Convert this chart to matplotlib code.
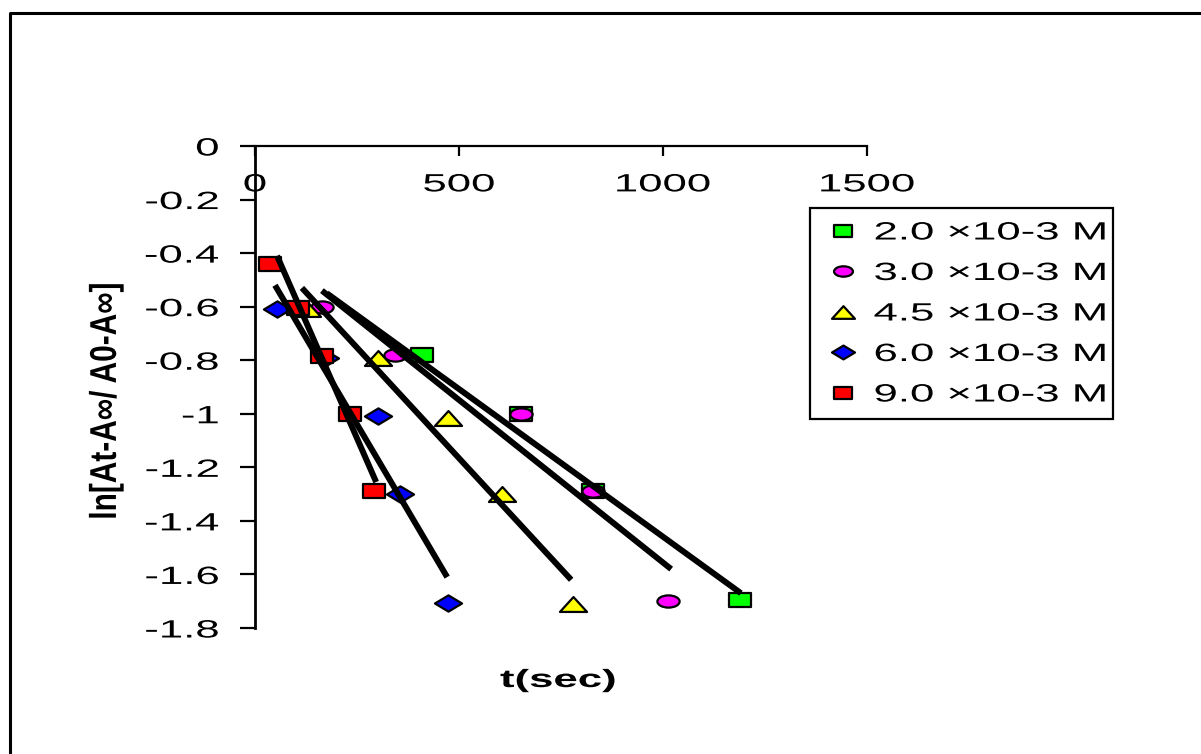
import matplotlib.pyplot as plt
import matplotlib.patheffects as pe
from matplotlib.path import Path
from matplotlib.transforms import Affine2D
from matplotlib.lines import Line2D

plt.rcParams['font.family'] = ['Liberation Sans', 'DejaVu Sans']

labels = ['2.0 ×10-3 M', '3.0 ×10-3 M', '4.5 ×10-3 M', '6.0 ×10-3 M', '9.0 ×10-3 M']
colors = ['#00ff00', '#ff00ff', '#ffff00', '#0000ff', '#ff0000']

t_20 = [409, 652, 828, 1189]
y_20 = [-0.78, -1.0, -1.29, -1.695]
t_30 = [164, 343, 652, 828, 1012]
y_30 = [-0.60, -0.78, -1.0, -1.29, -1.70]
t_45 = [127, 301, 473, 605, 779]
y_45 = [-0.61, -0.79, -1.015, -1.30, -1.71]
t_60 = [54, 172, 301, 355, 473]
y_60 = [-0.61, -0.79, -1.01, -1.30, -1.705]
t_90 = [37, 105, 164, 233, 292]
y_90 = [-0.44, -0.605, -0.785, -1.0, -1.29]

# trend lines (start / end)
fit_t = [[176, 1191], [164, 1020], [115, 775], [49, 471], [54, 297]]
fit_y = [[-0.55, -1.67], [-0.54, -1.58], [-0.53, -1.62], [-0.52, -1.61], [-0.41, -1.255]]

xticks = [0, 500, 1000, 1500]
yticks = [0, -0.2, -0.4, -0.6, -0.8, -1, -1.2, -1.4, -1.6, -1.8]
ytick_labels = ['0', '-0.2', '-0.4', '-0.6', '-0.8', '-1', '-1.2', '-1.4', '-1.6', '-1.8']


class Stretch(pe.AbstractPathEffect):
    # widen glyphs like the stretched original picture
    def __init__(self, sx=1.0, sy=1.0, anchor='left'):
        super().__init__()
        self.sx, self.sy, self.anchor = sx, sy, anchor

    def draw_path(self, renderer, gc, tpath, affine, rgbFace=None):
        ext = tpath.get_extents()
        if self.anchor == 'right':
            x0 = ext.x1
        elif self.anchor == 'center':
            x0 = (ext.x0 + ext.x1) / 2
        else:
            x0 = 0
        y0 = (ext.y0 + ext.y1) / 2
        tr = Affine2D().translate(-x0, -y0).scale(self.sx, self.sy).translate(x0, y0) + affine
        renderer.draw_path(gc, tpath, tr, rgbFace)


def closed(pts):
    codes = [Path.MOVETO] + [Path.LINETO] * (len(pts) - 1) + [Path.CLOSEPOLY]
    return Path(pts + [pts[0]], codes)


square = closed([(-1, -0.6), (1, -0.6), (1, 0.6), (-1, 0.6)])
oval = Affine2D().scale(1, 0.55).transform_path(Path.unit_circle())
tri = closed([(-1, -0.55), (1, -0.55), (0, 0.55)])
diam = closed([(-1, 0), (0, -0.6), (1, 0), (0, 0.6)])

markers = [square, oval, tri, diam, square]
msizes = [16, 16, 19.5, 19.5, 16]
series_t = [t_20, t_30, t_45, t_60, t_90]
series_y = [y_20, y_30, y_45, y_60, y_90]

SX = 1.75

fig = plt.figure(figsize=(12.01, 7.54), dpi=100)
ax = fig.add_axes([255 / 1201, 1 - 628 / 754, 612 / 1201, 482 / 754])

for i in range(5):
    ax.plot(series_t[i], series_y[i], ls='none', marker=markers[i], ms=msizes[i],
            mfc=colors[i], mec='black', mew=1.6, label=labels[i], zorder=3 + i, clip_on=False)

for i in range(5):
    ax.plot(fit_t[i], fit_y[i], color='black', lw=4.3, solid_capstyle='butt', zorder=10)

ax.set_xlim(0, 1500)
ax.set_ylim(-1.8, 0)
ax.spines['top'].set_visible(False)
ax.spines['right'].set_visible(False)
ax.spines['bottom'].set_position(('data', 0))
ax.spines['bottom'].set_linewidth(1.6)
ax.spines['left'].set_linewidth(2)
ax.set_xticks(xticks)
ax.set_yticks(yticks)
ax.set_yticklabels(ytick_labels)
ax.tick_params(axis='x', direction='out', length=7, width=1.6, pad=12, labelsize=18)
ax.tick_params(axis='y', direction='out', length=11, width=1.6, pad=15, labelsize=18)
for tk in ax.xaxis.get_major_ticks():
    tk.label1.set_path_effects([Stretch(SX, 1, 'center')])
for tk in ax.yaxis.get_major_ticks():
    tk.label1.set_path_effects([Stretch(SX, 1, 'right')])

fig.text(558 / 1201, 1 - 680 / 754, 't(sec)', ha='center', va='center', fontsize=18,
         fontweight='bold', path_effects=[Stretch(SX, 1, 'center')])
fig.text(106 / 1201, 1 - 401 / 754, 'ln[At-A∞/ A0-A∞]', ha='center', va='center',
         rotation=90, fontsize=21.5, fontweight='bold', path_effects=[Stretch(1, 1.25, 'center')])

leg = ax.legend(loc='upper left', bbox_to_anchor=(810 / 1201, 1 - 208 / 754, 303 / 1201, 0),
                bbox_transform=fig.transFigure, mode='expand', borderaxespad=0,
                fontsize=18, labelspacing=0.66, handlelength=1.64, handletextpad=0.4,
                borderpad=0.5, fancybox=False, framealpha=1, edgecolor='black', markerscale=0.85)
leg.get_frame().set_linewidth(1.6)
for txt in leg.get_texts():
    txt.set_path_effects([Stretch(SX, 1, 'left')])

# outer frame, only left and top edges fall inside the picture
fig.add_artist(Line2D([10 / 1201, 10 / 1201, 1.0], [0.0, 1 - 13 / 754, 1 - 13 / 754],
                      transform=fig.transFigure, color='black', lw=2.2))

fig.savefig('out.png', dpi=100)
